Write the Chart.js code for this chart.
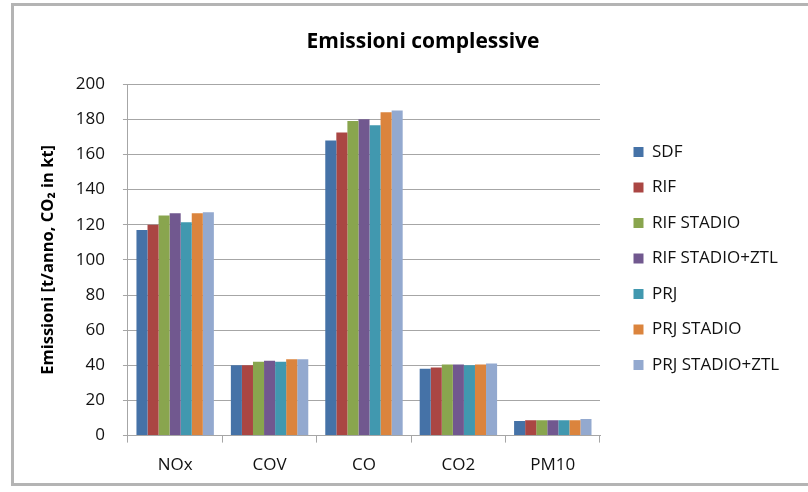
<!DOCTYPE html>
<html>
<head>
<meta charset="utf-8">
<script src="https://cdn.jsdelivr.net/npm/chart.js@4"></script>
<style>
  html, body { margin: 0; padding: 0; background: #fff; overflow: hidden; }
  #wrap { position: relative; width: 808px; height: 492px; }
  #frame { position: absolute; left: 11px; top: 3px; width: 820px; height: 483px; border: 3px solid #b4b4b4; box-sizing: border-box; }
  canvas { position: absolute; left: 0; top: 0; }
</style>
</head>
<body>
<div id="wrap">
  <div id="frame"></div>
  <canvas id="chart" width="808" height="492"></canvas>
</div>
<script>
// categorie e scenari
const categories = ['NOx', 'COV', 'CO', 'CO2', 'PM10'];
const scenarios = ['SDF', 'RIF', 'RIF STADIO', 'RIF STADIO+ZTL', 'PRJ', 'PRJ STADIO', 'PRJ STADIO+ZTL'];
const colors = ['#4572A7', '#AA4643', '#89A54E', '#71588F', '#4198AF', '#DB843D', '#93A9CF'];

// valori
const sdf = [117, 40, 168, 38, 8.3];
const rif = [120, 40, 172.5, 38.8, 8.8];
const rifStadio = [125.2, 42, 179, 40.5, 8.8];
const rifStadioZtl = [126.5, 42.6, 180, 40.5, 8.8];
const prj = [121.4, 42, 176.6, 40, 8.8];
const prjStadio = [126.5, 43.5, 184, 40.5, 8.8];
const prjStadioZtl = [127.1, 43.5, 185, 41.1, 9.4];

const yTicks = [0, 20, 40, 60, 80, 100, 120, 140, 160, 180, 200];

const series = [sdf, rif, rifStadio, rifStadioZtl, prj, prjStadio, prjStadioZtl];
const font = '"Open Sans", sans-serif';

const datasets = series.map((vals, i) => ({
  label: scenarios[i],
  data: vals,
  backgroundColor: colors[i],
  borderWidth: 0
}));

// legenda a larghezza fissa, staccata dall'area del grafico
const legendGap = {
  id: 'legendGap',
  beforeLayout(chart) {
    const lg = chart.legend;
    if (!lg._fixed) {
      const fit = lg.fit;
      lg.fit = function () { fit.call(this); this.width = 208; };
      lg._fixed = true;
    }
  },
  afterLayout(chart) {
    chart.legend.left += 15;
    chart.legend.top += 10;
  }
};

function draw() {
  new Chart(document.getElementById('chart'), {
    type: 'bar',
    data: { labels: categories, datasets: datasets },
    plugins: [legendGap],
    options: {
      responsive: false,
      animation: false,
      layout: { padding: { left: 38, right: 0, top: 20, bottom: 5 } },
      datasets: { bar: { categoryPercentage: 0.82, barPercentage: 1 } },
      plugins: {
        title: {
          display: true,
          text: 'Emissioni complessive',
          color: '#000',
          font: { family: font, size: 21, weight: 'bold' },
          padding: { top: 9, bottom: 30 }
        },
        legend: {
          position: 'right',
          labels: {
            color: '#111',
            font: { family: font, size: 17 },
            boxWidth: 10,
            boxHeight: 10,
            padding: 18.5
          }
        },
        tooltip: { enabled: false }
      },
      scales: {
        x: {
          grid: { offset: true, drawOnChartArea: false, drawTicks: true, tickLength: 7, color: '#a6a6a6' },
          border: { color: '#a6a6a6' },
          ticks: { color: '#111', font: { family: font, size: 17 }, padding: 12 }
        },
        y: {
          min: 0,
          max: 200,
          afterBuildTicks: s => { s.ticks = yTicks.map(v => ({ value: v })); },
          grid: { color: '#a6a6a6', tickLength: 5 },
          border: { color: '#a6a6a6' },
          ticks: { color: '#111', font: { family: font, size: 17 }, padding: 18 },
          title: {
            display: true,
            text: 'Emissioni [t/anno, CO\u2082 in kt]',
            color: '#000',
            font: { family: font, size: 16.5, weight: 'bold' },
            padding: { top: 0, bottom: 0 }
          }
        }
      }
    }
  });
}

Promise.all([
  document.fonts.load('16px "Open Sans"'),
  document.fonts.load('bold 16px "Open Sans"')
]).then(draw, draw);
</script>
</body>
</html>
